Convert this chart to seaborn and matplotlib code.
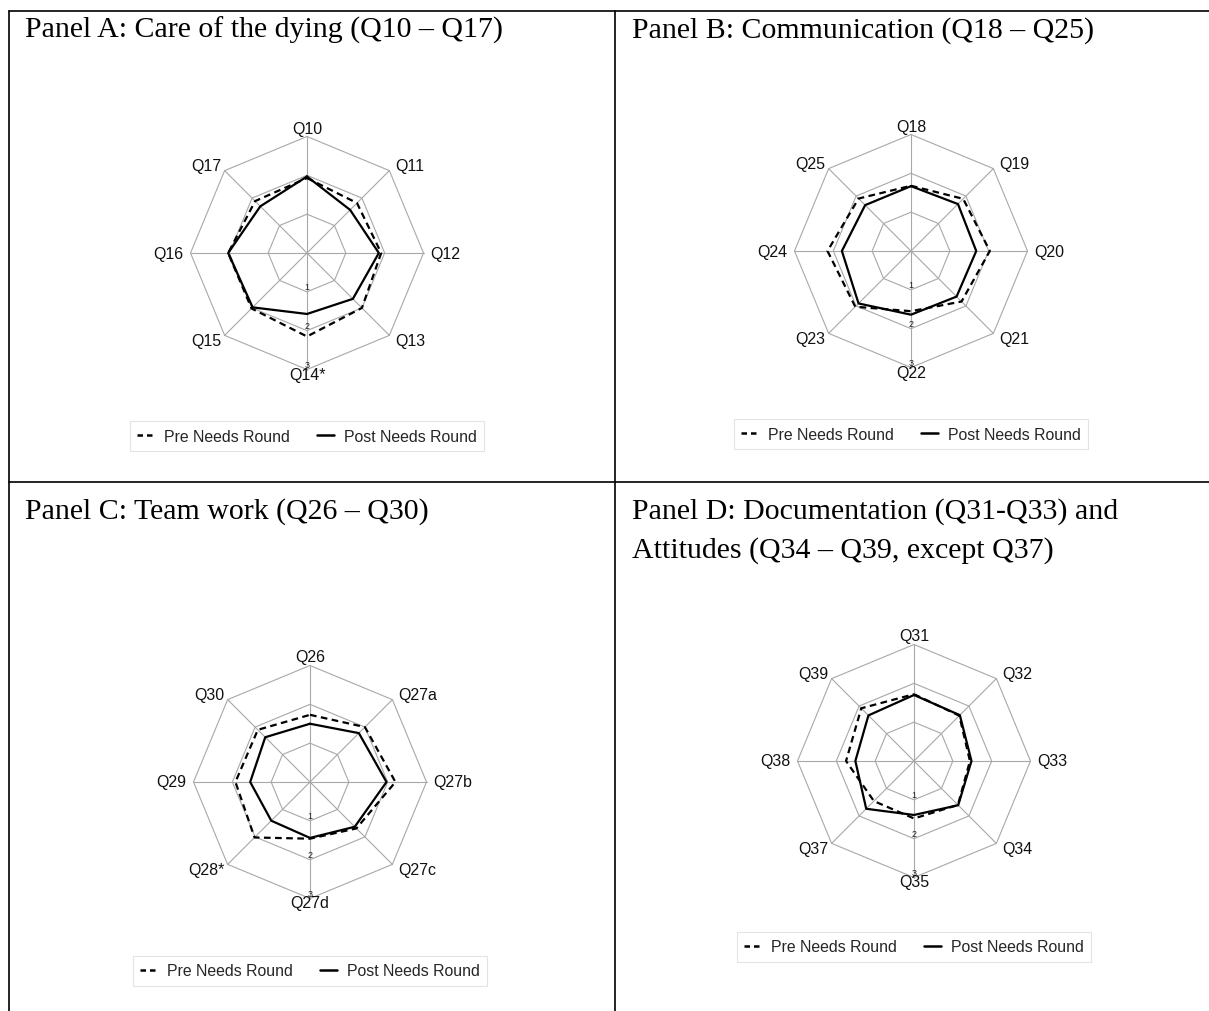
import numpy as np
import pandas as pd
import seaborn as sns
import matplotlib.pyplot as plt
from matplotlib.lines import Line2D

# --- data (scale 0-3) ---
a_questions = ['Q10', 'Q11', 'Q12', 'Q13', 'Q14*', 'Q15', 'Q16', 'Q17']
a_pre = [1.93, 1.82, 1.91, 2.00, 2.15, 2.02, 2.03, 1.89]
a_post = [1.97, 1.57, 1.85, 1.67, 1.57, 1.98, 2.03, 1.70]

b_questions = ['Q18', 'Q19', 'Q20', 'Q21', 'Q22', 'Q23', 'Q24', 'Q25']
b_pre = [1.68, 1.90, 2.03, 1.84, 1.55, 2.03, 2.15, 1.91]
b_post = [1.67, 1.71, 1.68, 1.66, 1.64, 1.91, 1.78, 1.67]

c_questions = ['Q26', 'Q27a', 'Q27b', 'Q27c', 'Q27d', 'Q28*', 'Q29', 'Q30']
c_pre = [1.73, 2.00, 2.20, 1.69, 1.46, 2.02, 1.92, 1.90]
c_post = [1.50, 1.78, 1.97, 1.63, 1.44, 1.41, 1.54, 1.63]

d_questions = ['Q31', 'Q32', 'Q33', 'Q34', 'Q35', 'Q37', 'Q38', 'Q39']
d_pre = [1.72, 1.65, 1.44, 1.60, 1.48, 1.46, 1.75, 1.92]
d_post = [1.70, 1.67, 1.48, 1.61, 1.39, 1.74, 1.51, 1.66]

rings = [1, 2, 3]
round_names = ['Pre Needs Round', 'Post Needs Round']

W, H = 1209, 1012
R_PX = 116.5   # pixel radius of outer ring
LIM = 3.9

sns.set_theme(style='white')
plt.rcParams['font.family'] = ['Liberation Sans', 'DejaVu Sans']

fig = plt.figure(figsize=(W / 100, H / 100), dpi=100)


def panel_frame(questions, pre, post):
    n = len(questions)
    rows = []
    for name, vals in zip(round_names, (pre, post)):
        for i in range(n + 1):
            k = i % n
            a = np.pi / 2 - 2 * np.pi * k / n
            rows.append({'round': name, 'question': questions[k], 'score': vals[k],
                         'x': vals[k] * np.cos(a), 'y': vals[k] * np.sin(a)})
    return pd.DataFrame(rows)


def radar(cx, cy, questions, pre, post, legend_y):
    half = LIM * R_PX / 3
    ax = fig.add_axes([(cx - half) / W, (H - cy - half) / H, 2 * half / W, 2 * half / H])
    ax.set_xlim(-LIM, LIM)
    ax.set_ylim(-LIM, LIM)
    ax.axis('off')

    n = len(questions)
    ang = np.pi / 2 - 2 * np.pi * np.arange(n) / n
    closed = np.r_[ang, ang[0]]
    for r in rings:
        ax.plot(r * np.cos(closed), r * np.sin(closed), color='#a8a8a8', lw=0.8, zorder=1)
    top = rings[-1]
    for a in ang:
        ax.plot([0, top * np.cos(a)], [0, top * np.sin(a)], color='#a8a8a8', lw=0.8, zorder=1)
    for r in rings:
        ax.text(0, -r + 0.02, str(r), ha='center', va='bottom', fontsize=6.5, color='#222222', zorder=2)

    # spoke labels
    for q, a in zip(questions, ang):
        c, s = np.cos(a), np.sin(a)
        if abs(c) < 0.1:
            ha = 'center'
            va = 'bottom' if s > 0 else 'top'
            off = (0, 1) if s > 0 else (0, 3)
        elif abs(s) < 0.1:
            ha = 'left' if c > 0 else 'right'
            va = 'center'
            off = (7 * np.sign(c), 0)
        else:
            ha = 'left' if c > 0 else 'right'
            va = 'center'
            off = (6 * np.sign(c) if c > 0 else -3, 5 * np.sign(s))
        ax.annotate(q, xy=(top * c, top * s), xytext=(off[0] * 0.72, off[1] * 0.72),
                    textcoords='offset points', ha=ha, va=va, fontsize=11.5, color='#111111')

    df = panel_frame(questions, pre, post)
    sns.lineplot(data=df, x='x', y='y', hue='round', style='round', sort=False,
                 estimator=None, palette={n_: 'black' for n_ in round_names},
                 dashes={'Pre Needs Round': (3, 2), 'Post Needs Round': ''},
                 linewidth=1.6, legend=False, ax=ax, zorder=3)

    handles = [Line2D([], [], color='black', lw=1.8, dashes=(2.2, 1.6)),
               Line2D([], [], color='black', lw=1.8)]
    leg = fig.legend(handles, round_names, loc='center',
                     bbox_to_anchor=(cx / W, 1 - legend_y / H), ncol=2, fontsize=11.4,
                     frameon=True, fancybox=False, edgecolor='#dddddd',
                     handlelength=1.1, handletextpad=0.6, columnspacing=1.7,
                     borderpad=0.45)
    leg.get_frame().set_linewidth(0.8)
    return ax


radar(307, 254, a_questions, a_pre, a_post, 437)
radar(911, 252, b_questions, b_pre, b_post, 435)
radar(310, 783, c_questions, c_pre, c_post, 972)
radar(914, 762, d_questions, d_pre, d_post, 948)

# --- table borders ---
def hline(y, x0, x1):
    fig.add_artist(Line2D([x0 / W, x1 / W], [1 - y / H, 1 - y / H], transform=fig.transFigure,
                          color='black', lw=1.2))


def vline(x, y0, y1):
    fig.add_artist(Line2D([x / W, x / W], [1 - y0 / H, 1 - y1 / H], transform=fig.transFigure,
                          color='black', lw=1.2))


hline(12, 9, W)
hline(483, 9, W)
vline(9, 12, H)
vline(615, 12, H)

serif = dict(family='Liberation Serif', fontsize=21.5, va='baseline', color='black')
fig.text(25 / W, 1 - 38 / H, 'Panel A: Care of the dying (Q10 – Q17)', **serif)
fig.text(632 / W, 1 - 38 / H, 'Panel B: Communication (Q18 – Q25)', **serif)
fig.text(25 / W, 1 - 519 / H, 'Panel C: Team work (Q26 – Q30)', **serif)
fig.text(632 / W, 1 - 519 / H, 'Panel D: Documentation (Q31-Q33) and', **serif)
fig.text(632 / W, 1 - 558 / H, 'Attitudes (Q34 – Q39, except Q37)', **serif)

fig.savefig('out.png', dpi=100)
